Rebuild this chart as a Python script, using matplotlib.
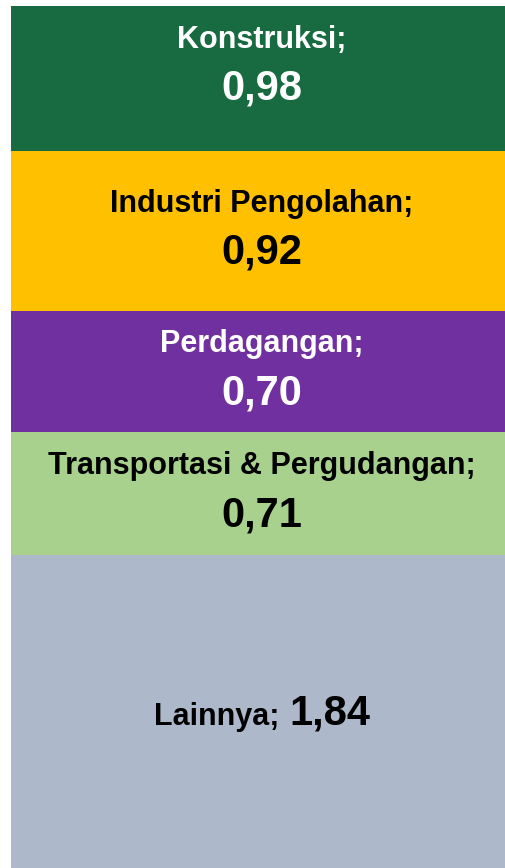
import matplotlib
matplotlib.use('Agg')
import matplotlib.pyplot as plt
from matplotlib.offsetbox import TextArea, VPacker, HPacker, AnnotationBbox

# stacked from the bottom up
sectors = ['Lainnya', 'Transportasi & Pergudangan', 'Perdagangan',
           'Industri Pengolahan', 'Konstruksi']
values = [1.84, 0.71, 0.70, 0.92, 0.98]
value_labels = ['1,84', '0,71', '0,70', '0,92', '0,98']
colors = ['#ADB9CA', '#A9D18E', '#7030A0', '#FFC000', '#186B40']
text_colors = ['black', 'black', 'white', 'black', 'white']

fam = ['Liberation Sans Narrow', 'Liberation Sans', 'DejaVu Sans']

fig = plt.figure(figsize=(5.06, 8.68), dpi=100)
ax = fig.add_axes([11 / 506, 0, 502 / 506, 862 / 868])

bottom = 0
for name, v, lab, c, tc in zip(sectors, values, value_labels, colors, text_colors):
    ax.bar(0, v, width=1, bottom=bottom, color=c, linewidth=0)
    t1 = TextArea(name + ';', textprops=dict(family=fam, weight='bold', size=22, color=tc))
    t2 = TextArea(lab, textprops=dict(family=fam, weight='bold', size=30, color=tc))
    if name == 'Lainnya':
        box = HPacker(children=[t1, t2], align='baseline', pad=0, sep=7)
    else:
        box = VPacker(children=[t1, t2], align='center', pad=0, sep=10)
    ab = AnnotationBbox(box, (0, bottom + v / 2), frameon=False, box_alignment=(0.5, 0.5))
    ax.add_artist(ab)
    bottom += v

ax.set_xlim(-0.5, 0.5)
ax.set_ylim(0.03, 5.01)
ax.axis('off')

fig.savefig('out.png', dpi=100)
